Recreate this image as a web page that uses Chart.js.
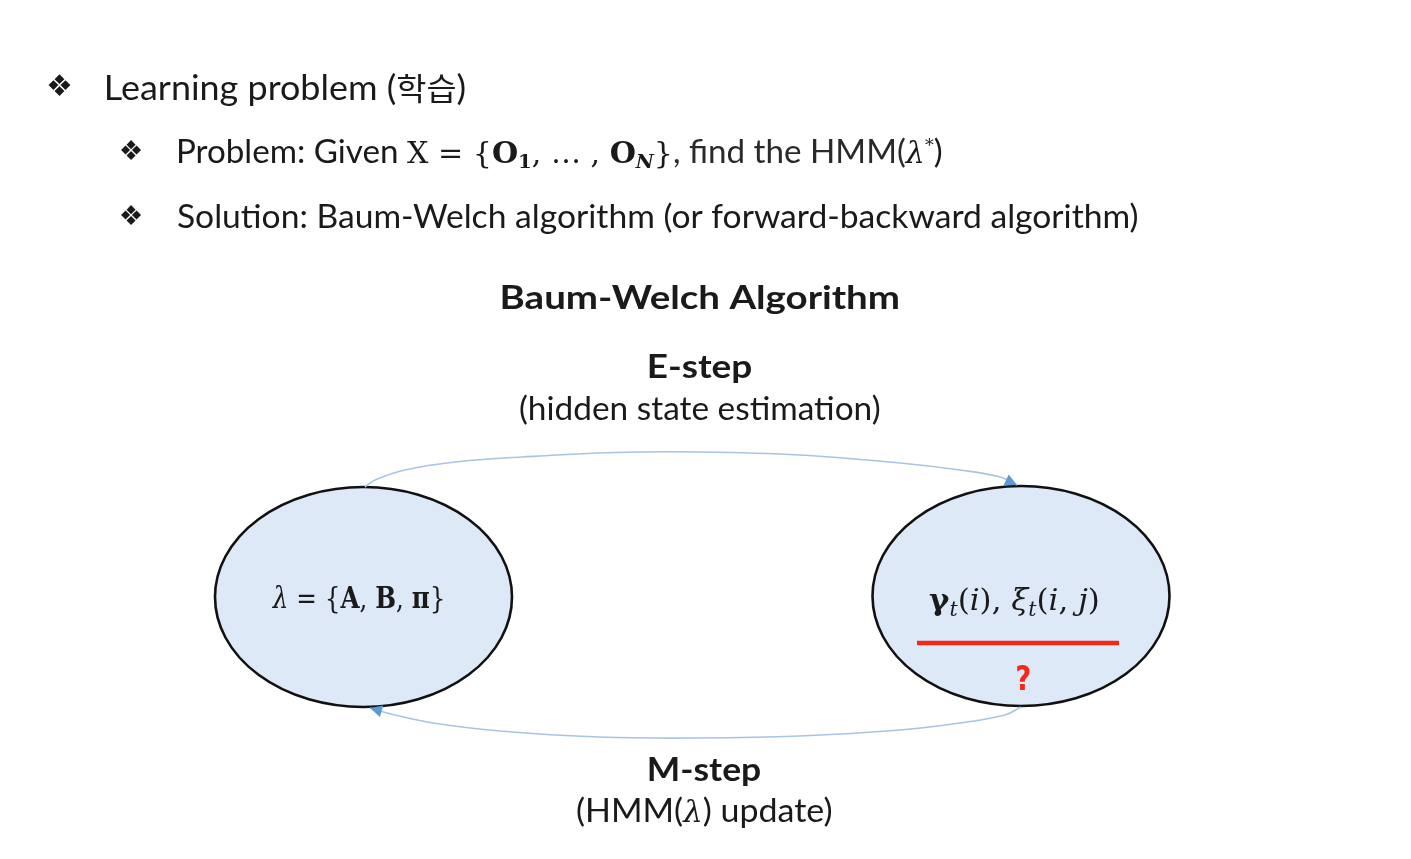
<!DOCTYPE html>
<html>
<head>
<meta charset="utf-8">
<script src="https://cdn.jsdelivr.net/npm/chart.js@4.4.1/dist/chart.umd.min.js"></script>
<style>
  html, body { margin: 0; padding: 0; background: #fff; overflow: hidden; }
  #wrap { width: 1411px; height: 859px; position: relative; }
</style>
</head>
<body>
<div id="wrap"><canvas id="slide"></canvas></div>
<script>
// node centres (scale units = slide pixels)
const nodeX = [363.5, 1021];
const nodeY = [597, 596];

// E-step arc: parameters -> posteriors
const eStepX = [365, 375, 405, 455, 522, 615, 700, 800, 900, 960, 1000, 1017];
const eStepY = [487, 480, 470, 462, 457, 452.5, 452, 455, 463, 470, 477, 485];

// M-step arc: posteriors -> parameters
const mStepX = [1021, 1005, 960, 900, 800, 700, 600, 500, 433, 395, 370];
const mStepY = [707, 715, 723, 730, 736, 738, 737, 731, 723, 715, 708];

// red rule under the posterior quantities
const ruleX = [917, 1119];
const ruleY = [643, 643];

const bulletTexts = [
    'Learning problem (학습)',
    'Solution: Baum-Welch algorithm (or forward-backward algorithm)',
];
const titleText = 'Baum-Welch Algorithm';
const eStepText = ['E-step', '(hidden state estimation)'];
const mStepText = ['M-step', '(HMM(', 'λ', ') update)'];

const INK = '#1a1a1a';
const SANS = "Lato, 'Noto Sans CJK KR', 'Noto Sans', sans-serif";
const SERIF = "'DejaVu Serif', 'Liberation Serif', serif";

const toPoints = (xs, ys) => xs.map((x, i) => ({ x, y: ys[i] }));

// draws a row of text runs squeezed/stretched so the ink spans left..right
function drawFitted(ctx, runs, left, right, baseline) {
    ctx.save();
    let pos = 0;
    let inkLeft = 0, inkRight = 0;
    runs.forEach((r, i) => {
        ctx.font = r.font;
        const m = ctx.measureText(r.text);
        r.w = m.width;
        if (i === 0) inkLeft = -m.actualBoundingBoxLeft;
        if (i === runs.length - 1) inkRight = pos + m.actualBoundingBoxRight;
        pos += r.w;
    });
    const k = (right - left) / (inkRight - inkLeft);
    ctx.translate(left, baseline);
    ctx.scale(k, 1);
    ctx.translate(-inkLeft, 0);
    ctx.textAlign = 'left';
    ctx.textBaseline = 'alphabetic';
    let x = 0;
    runs.forEach(r => {
        ctx.font = r.font;
        ctx.fillStyle = r.color || INK;
        ctx.fillText(r.text, x, r.dy || 0);
        x += r.w;
    });
    ctx.restore();
}

// one glyph stretched into a box
function drawBoxed(ctx, text, font, left, top, right, bottom, color) {
    ctx.save();
    ctx.font = font;
    ctx.textAlign = 'left';
    ctx.textBaseline = 'alphabetic';
    const m = ctx.measureText(text);
    const gw = m.actualBoundingBoxLeft + m.actualBoundingBoxRight;
    const gh = m.actualBoundingBoxAscent + m.actualBoundingBoxDescent;
    ctx.translate(left, top);
    ctx.scale((right - left) / gw, (bottom - top) / gh);
    ctx.fillStyle = color || INK;
    ctx.fillText(text, m.actualBoundingBoxLeft, m.actualBoundingBoxAscent);
    ctx.restore();
}

const slidePlugin = {
    id: 'slide',
    beforeDraw(chart) {
        const ctx = chart.ctx;
        ctx.save();
        ctx.fillStyle = '#ffffff';
        ctx.fillRect(0, 0, chart.width, chart.height);
        ctx.restore();
    },
    beforeDatasetsDraw(chart) {
        // the two state ellipses
        const ctx = chart.ctx;
        const xs = chart.scales.x, ys = chart.scales.y;
        const meta = chart.getDatasetMeta(3);
        const rx = xs.getPixelForValue(148.5) - xs.getPixelForValue(0);
        const ry = ys.getPixelForValue(110) - ys.getPixelForValue(0);
        ctx.save();
        meta.data.forEach(pt => {
            ctx.beginPath();
            ctx.ellipse(pt.x, pt.y, rx, ry, 0, 0, Math.PI * 2);
            ctx.fillStyle = '#dde9f6';
            ctx.fill();
            ctx.lineWidth = 2.6;
            ctx.strokeStyle = '#111111';
            ctx.stroke();
        });
        ctx.restore();
    },
    afterDatasetsDraw(chart) {
        const ctx = chart.ctx;
        const xs = chart.scales.x, ys = chart.scales.y;
        const X = v => xs.getPixelForValue(v);
        const Y = v => ys.getPixelForValue(v);

        // arrow heads at the end of both arcs
        [0, 1].forEach(di => {
            const pts = chart.getDatasetMeta(di).data;
            const p = pts[pts.length - 1], q = pts[pts.length - 2];
            let dx = p.x - q.x, dy = p.y - q.y;
            const len = Math.hypot(dx, dy);
            dx /= len; dy /= len;
            const L = 12, W = 6;
            ctx.save();
            ctx.beginPath();
            ctx.moveTo(p.x, p.y);
            ctx.lineTo(p.x - dx * L - dy * W, p.y - dy * L + dx * W);
            ctx.lineTo(p.x - dx * L + dy * W, p.y - dy * L - dx * W);
            ctx.closePath();
            ctx.fillStyle = '#5b9bd5';
            ctx.fill();
            ctx.restore();
        });

        // bullets
        const bullet = (cx, cy, s) => drawBoxed(ctx, '❖', `30px 'DejaVu Sans'`,
            X(cx - s / 2), Y(cy - s / 2), X(cx + s / 2), Y(cy + s / 2));
        bullet(59.5, 85, 23);
        bullet(131, 150, 21);
        bullet(131, 215, 21);

        drawFitted(ctx, [
            { text: 'Learning problem (', font: `34px ${SANS}` },
            { text: '학습', font: `31px 'Noto Sans CJK KR'` },
            { text: ')', font: `34px ${SANS}` },
        ], X(107), X(465), Y(100));

        drawFitted(ctx, [
            { text: 'Problem: Given ', font: `32px ${SANS}` },
            { text: 'X = {', font: `29px ${SERIF}` },
            { text: 'O', font: `bold 29px ${SERIF}` },
            { text: '1', font: `bold 19px ${SERIF}`, dy: 5 },
            { text: ', … , ', font: `29px ${SERIF}` },
            { text: 'O', font: `bold 29px ${SERIF}` },
            { text: 'N', font: `bold italic 19px ${SERIF}`, dy: 5 },
            { text: '}', font: `29px ${SERIF}` },
            { text: ', find the HMM(', font: `32px ${SANS}`, color: '#2a2a2a' },
            { text: 'λ', font: `italic 29px ${SERIF}` },
            { text: '*', font: `17px ${SERIF}`, dy: -12 },
            { text: ')', font: `32px ${SANS}` },
        ], X(178), X(942), Y(163));

        drawFitted(ctx, [{ text: bulletTexts[1], font: `32px ${SANS}` }], X(178), X(1138), Y(228));

        drawFitted(ctx, [{ text: titleText, font: `bold 32px ${SANS}` }], X(502), X(899), Y(309));
        drawFitted(ctx, [{ text: eStepText[0], font: `bold 32px ${SANS}` }], X(649), X(752), Y(378));
        drawFitted(ctx, [{ text: eStepText[1], font: `32px ${SANS}` }], X(520), X(880), Y(420));
        drawFitted(ctx, [{ text: mStepText[0], font: `bold 32px ${SANS}` }], X(649), X(761), Y(781));
        drawFitted(ctx, [
            { text: mStepText[1], font: `32px ${SANS}` },
            { text: mStepText[2], font: `italic 29px ${SERIF}` },
            { text: mStepText[3], font: `32px ${SANS}` },
        ], X(577), X(832), Y(822));

        // left node: lambda = {A, B, pi}
        drawFitted(ctx, [
            { text: 'λ', font: `italic 30px ${SERIF}` },
            { text: ' = {', font: `30px ${SERIF}` },
            { text: 'A', font: `bold 30px ${SERIF}` },
            { text: ', ', font: `30px ${SERIF}` },
            { text: 'B', font: `bold 30px ${SERIF}` },
            { text: ', ', font: `30px ${SERIF}` },
            { text: 'π', font: `bold 30px ${SERIF}` },
            { text: '}', font: `30px ${SERIF}` },
        ], X(272), X(443), Y(608));

        // right node: gamma_t(i), xi_t(i, j)
        drawFitted(ctx, [
            { text: 'γ', font: `bold 30px ${SERIF}` },
            { text: 't', font: `italic 20px ${SERIF}`, dy: 6 },
            { text: '(', font: `30px ${SERIF}` },
            { text: 'i', font: `italic 30px ${SERIF}` },
            { text: '), ', font: `30px ${SERIF}` },
            { text: 'ξ', font: `italic 30px ${SERIF}` },
            { text: 't', font: `italic 20px ${SERIF}`, dy: 6 },
            { text: '(', font: `30px ${SERIF}` },
            { text: 'i', font: `italic 30px ${SERIF}` },
            { text: ', ', font: `30px ${SERIF}` },
            { text: 'j', font: `italic 30px ${SERIF}` },
            { text: ')', font: `30px ${SERIF}` },
        ], X(929), X(1098), Y(610));

        drawBoxed(ctx, '?', `bold 32px 'DejaVu Sans'`, X(1017), Y(666), X(1030), Y(690), '#f5281a');
    }
};

new Chart(document.getElementById('slide'), {
    type: 'scatter',
    data: {
        datasets: [
            {
                label: 'E-step',
                data: toPoints(eStepX, eStepY),
                showLine: true,
                tension: 0.4,
                borderColor: '#a8c4e5',
                borderWidth: 1.6,
                pointRadius: 0,
            },
            {
                label: 'M-step',
                data: toPoints(mStepX, mStepY),
                showLine: true,
                tension: 0.4,
                borderColor: '#a8c4e5',
                borderWidth: 1.6,
                pointRadius: 0,
            },
            {
                label: 'rule',
                data: toPoints(ruleX, ruleY),
                showLine: true,
                borderColor: '#f5281a',
                borderWidth: 4.5,
                pointRadius: 0,
            },
            {
                label: 'nodes',
                data: toPoints(nodeX, nodeY),
                pointRadius: 0,
            },
        ]
    },
    options: {
        responsive: true,
        maintainAspectRatio: false,
        animation: false,
        events: [],
        layout: { padding: 0 },
        scales: {
            x: { type: 'linear', min: 0, max: 1411, display: false },
            y: { type: 'linear', min: 0, max: 859, reverse: true, display: false },
        },
        plugins: {
            legend: { display: false },
            tooltip: { enabled: false },
        },
    },
    plugins: [slidePlugin],
});
</script>
</body>
</html>
